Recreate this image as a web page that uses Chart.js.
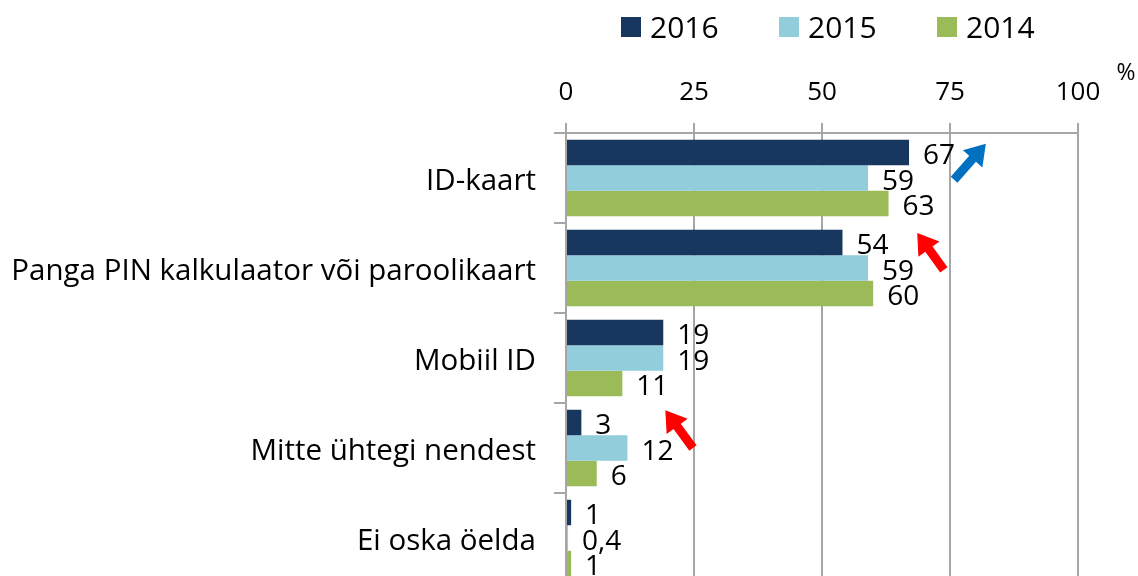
<!DOCTYPE html>
<html>
<head>
<meta charset="utf-8">
<script src="https://cdn.jsdelivr.net/npm/chart.js@4"></script>
<style>
  html, body { margin: 0; padding: 0; background: #fff; overflow: hidden; }
  #wrap { width: 1138px; height: 576px; overflow: hidden; }
</style>
</head>
<body>
<div id="wrap"><canvas id="chart" width="1138" height="600"></canvas></div>
<script>
const categories = ['ID-kaart', 'Panga PIN kalkulaator või paroolikaart', 'Mobiil ID', 'Mitte ühtegi nendest', 'Ei oska öelda'];
const years = ['2016', '2015', '2014'];
const values2016 = [67, 54, 19, 3, 1];
const values2015 = [59, 59, 19, 12, 0.4];
const values2014 = [63, 60, 11, 6, 1];
const xTicks = [0, 25, 50, 75, 100];

// arrows: [x value, category position] tail -> tip
const arrows = [
    { from: [75.8, 0.02], to: [82, -0.38], color: '#0070c0' },
    { from: [73.8, 1.02], to: [68.6, 0.61], color: '#ff0000' },
    { from: [24.8, 3.0], to: [19.4, 2.58], color: '#ff0000' }
];

const colors = ['#17375e', '#92cddc', '#9bbb59'];
const fontFamily = '"Open Sans", Lato, sans-serif';
const gridColor = '#a6a6a6';

function drawArrow(ctx, x1, y1, x2, y2, color) {
    const ang = Math.atan2(y2 - y1, x2 - x1);
    const len = Math.hypot(x2 - x1, y2 - y1);
    const headLen = 20, headW = 13, shaftW = 4.5;
    ctx.save();
    ctx.translate(x1, y1);
    ctx.rotate(ang);
    ctx.fillStyle = color;
    ctx.beginPath();
    ctx.moveTo(0, -shaftW);
    ctx.lineTo(len - headLen, -shaftW);
    ctx.lineTo(len - headLen, -headW);
    ctx.lineTo(len, 0);
    ctx.lineTo(len - headLen, headW);
    ctx.lineTo(len - headLen, shaftW);
    ctx.lineTo(0, shaftW);
    ctx.closePath();
    ctx.fill();
    ctx.restore();
}

const extrasPlugin = {
    id: 'extras',
    afterDatasetsDraw(chart) {
        const ctx = chart.ctx;
        ctx.save();
        ctx.font = '28px ' + fontFamily;
        ctx.fillStyle = '#000';
        ctx.textAlign = 'left';
        ctx.textBaseline = 'middle';
        chart.data.datasets.forEach((ds, i) => {
            chart.getDatasetMeta(i).data.forEach((bar, j) => {
                const txt = String(ds.data[j]).replace('.', ',');
                ctx.fillText(txt, bar.x + 14, bar.y + 4);
            });
        });

        const xs = chart.scales.x, ys = chart.scales.y;
        arrows.forEach(a => {
            drawArrow(ctx,
                xs.getPixelForValue(a.from[0]), ys.getPixelForValue(a.from[1]),
                xs.getPixelForValue(a.to[0]), ys.getPixelForValue(a.to[1]), a.color);
        });

        // % unit label
        ctx.font = '23px ' + fontFamily;
        ctx.textAlign = 'center';
        ctx.fillText('%', xs.right + 48, 73);

        // legend
        ctx.font = '30px ' + fontFamily;
        ctx.textAlign = 'left';
        let lx = 621;
        chart.data.datasets.forEach((ds, i) => {
            ctx.fillStyle = ds.backgroundColor;
            ctx.fillRect(lx, 17, 20, 20);
            ctx.fillStyle = '#000';
            ctx.fillText(ds.label, lx + 29, 29);
            lx += 158;
        });
        ctx.restore();
    }
};

new Chart(document.getElementById('chart'), {
    type: 'bar',
    data: {
        labels: categories,
        datasets: [
            { label: years[0], data: values2016, backgroundColor: colors[0] },
            { label: years[1], data: values2015, backgroundColor: colors[1] },
            { label: years[2], data: values2014, backgroundColor: colors[2] }
        ]
    },
    options: {
        indexAxis: 'y',
        responsive: false,
        animation: false,
        devicePixelRatio: 1,
        layout: { padding: { top: 0, right: 60, bottom: 17, left: 0 } },
        datasets: { bar: { categoryPercentage: 0.85, barPercentage: 1 } },
        plugins: {
            legend: { display: false },
            tooltip: { enabled: false }
        },
        scales: {
            x: {
                position: 'top',
                min: 0,
                max: 100,
                afterBuildTicks: scale => { scale.ticks = xTicks.map(v => ({ value: v })); },
                afterFit: scale => {
                    scale.height = 133;
                    scale.paddingLeft = 0;
                    scale.paddingRight = 0;
                },
                ticks: {
                    font: { family: fontFamily, size: 26 },
                    color: '#000',
                    padding: 15
                },
                grid: { color: gridColor, lineWidth: 2, tickLength: 10 },
                border: { color: gridColor, width: 2 }
            },
            y: {
                afterFit: scale => {
                    scale.width = 566;
                    scale.paddingTop = 0;
                    scale.paddingBottom = 0;
                },
                ticks: {
                    font: { family: fontFamily, size: 29.5 },
                    color: '#000',
                    padding: 18,
                    labelOffset: 4
                },
                grid: { offset: true, drawOnChartArea: false, color: gridColor, lineWidth: 2, tickLength: 12 },
                border: { color: gridColor, width: 2 }
            }
        }
    },
    plugins: [extrasPlugin]
});
</script>
</body>
</html>
